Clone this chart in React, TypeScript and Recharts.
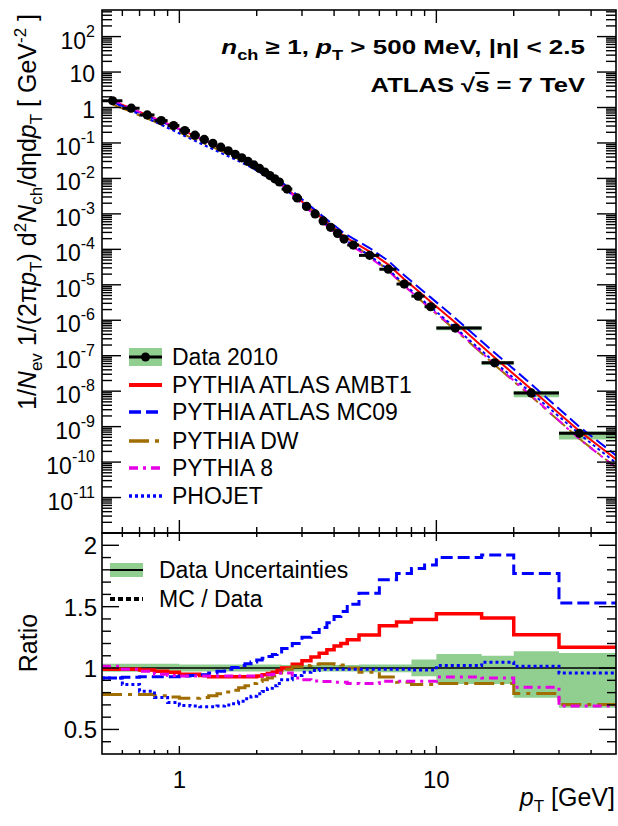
import React from 'react';
import {
  ComposedChart, Line, Area, Scatter, ErrorBar, XAxis, YAxis, ReferenceArea, ReferenceLine,
} from 'recharts';

// pT bin edges [GeV]
const binEdges = [
  0.5, 0.6, 0.7, 0.8, 0.9, 1.0, 1.1, 1.2, 1.3, 1.4, 1.5, 1.6, 1.7, 1.8, 1.9, 2.0, 2.1, 2.2, 2.3, 2.4, 2.5,
  2.75, 3.0, 3.25, 3.5, 3.75, 4.0, 4.25, 4.5, 5, 6, 7, 8, 9, 10, 15, 20, 30, 50,
];
// where the data marker sits inside each bin
const markerPt = [
  0.55, 0.65, 0.75, 0.85, 0.95, 1.05, 1.15, 1.25, 1.35, 1.45, 1.55, 1.65, 1.75, 1.85, 1.95, 2.05, 2.15, 2.25, 2.35, 2.45,
  2.625, 2.875, 3.125, 3.375, 3.625, 3.875, 4.125, 4.375, 4.75, 5.5, 6.5, 7.5, 8.5, 9.5, 11.85, 16.85, 23.4, 36,
];
// 1/Nev 1/(2 pi pT) d2N/deta dpT  [GeV^-2]
const data2010 = [
  1.55, 0.955, 0.617, 0.427, 0.309, 0.224, 0.166, 0.126, 0.0977, 0.0759, 0.0603, 0.0479, 0.038, 0.0302, 0.024,
  0.0191, 0.0151, 0.012, 0.00977, 0.00794, 0.00501, 0.00282, 0.00162, 0.001, 6.31e-4, 4.17e-4, 2.82e-4, 1.95e-4,
  1.32e-4, 6.76e-5, 2.75e-5, 1.05e-5, 4.79e-6, 2.4e-6, 6.03e-7, 6.31e-8, 8.91e-9, 6.46e-10,
];
// relative data uncertainty band
const bandLow = [
  0.97, 0.97, 0.97, 0.97, 0.97,
  0.972, 0.972, 0.972, 0.972, 0.972, 0.972, 0.972, 0.972, 0.972, 0.972, 0.972, 0.972, 0.972, 0.972, 0.972,
  0.972, 0.972, 0.972, 0.972, 0.972, 0.972, 0.972, 0.972, 0.972,
  0.966, 0.966, 0.966, 0.934, 0.934, 0.87, 0.87, 0.758, 0.676,
];
const bandHigh = [
  1.035, 1.035, 1.035, 1.035, 1.035,
  1.028, 1.028, 1.028, 1.028, 1.028, 1.028, 1.028, 1.028, 1.028, 1.028, 1.028, 1.028, 1.028, 1.028, 1.028,
  1.025, 1.025, 1.025, 1.025, 1.025, 1.025, 1.025, 1.025, 1.025,
  1.028, 1.028, 1.028, 1.069, 1.069, 1.115, 1.1, 1.137, 1.123,
];
// MC / Data per bin
const ratioAMBT1 = [
  0.99, 0.99, 0.985, 0.975, 0.965, 0.95, 0.95, 0.94, 0.93, 0.93, 0.93, 0.93, 0.93, 0.93, 0.93, 0.935, 0.945, 0.955,
  0.965, 0.98, 1.0, 1.03, 1.06, 1.09, 1.12, 1.15, 1.18, 1.2, 1.23, 1.27, 1.345, 1.375, 1.395, 1.395, 1.443, 1.408,
  1.272, 1.169,
];
const ratioMC09 = [
  0.92, 0.925, 0.93, 0.93, 0.93, 0.935, 0.94, 0.945, 0.96, 0.975, 0.99, 1.005, 1.02, 1.035, 1.05, 1.065, 1.08, 1.095,
  1.11, 1.13, 1.16, 1.2, 1.25, 1.29, 1.33, 1.37, 1.42, 1.46, 1.52, 1.61, 1.72, 1.77, 1.81, 1.84, 1.9, 1.92, 1.77, 1.53,
];
const ratioDW = [
  0.785, 0.785, 0.785, 0.775, 0.765, 0.755, 0.755, 0.76, 0.775, 0.79, 0.805, 0.82, 0.84, 0.855, 0.875, 0.89, 0.905,
  0.92, 0.935, 0.96, 0.99, 1.01, 1.02, 1.03, 1.035, 1.035, 1.03, 1.025, 1.0, 0.966, 0.928, 0.885, 0.866, 0.866,
  0.874, 0.874, 0.793, 0.703,
];
const ratioP8 = [
  1.015, 0.99, 0.975, 0.95, 0.94, 0.935, 0.935, 0.935, 0.935, 0.935, 0.935, 0.935, 0.935, 0.935, 0.935, 0.935, 0.94,
  0.945, 0.95, 0.96, 0.96, 0.92, 0.905, 0.895, 0.89, 0.89, 0.885, 0.885, 0.875, 0.874, 0.893, 0.893, 0.893, 0.893,
  0.928, 0.92, 0.844, 0.69,
];
const ratioPHOJET = [
  0.92, 0.866, 0.812, 0.76, 0.72, 0.695, 0.69, 0.685, 0.685, 0.69, 0.7, 0.71, 0.73, 0.75, 0.77, 0.79, 0.81, 0.835,
  0.855, 0.875, 0.905, 0.94, 0.965, 0.98, 0.99, 0.99, 0.99, 0.99, 0.99, 0.99, 0.99, 0.99, 0.985, 0.985, 1.02, 1.047,
  1.015, 0.96,
];
// MC curves where they hit the right edge (pT = 50 GeV), same order as SERIES
const mcAt50 = [1.2e-10, 1.55e-10, 7.1e-11, 7.0e-11, 9.5e-11];

const xTicks = [0.6, 0.7, 0.8, 0.9, 1, 2, 3, 4, 5, 6, 7, 8, 9, 10, 20, 30, 40];
const xLabels = [1, 10];
const yDecades = [-12, -11, -10, -9, -8, -7, -6, -5, -4, -3, -2, -1, 0, 1, 2];
const yMinorSteps = [2, 3, 4, 5, 6, 7, 8, 9];
const ratioTicks = [0.4, 0.5, 0.6, 0.7, 0.8, 0.9, 1, 1.1, 1.2, 1.3, 1.4, 1.5, 1.6, 1.7, 1.8, 1.9, 2];
const ratioLabels = [0.5, 1, 1.5, 2];

const SERIES = [
  { key: 'ambt1', name: 'PYTHIA ATLAS AMBT1', ratio: ratioAMBT1, color: '#ff0000', dash: undefined as string | undefined, width: 3.5 },
  { key: 'mc09', name: 'PYTHIA ATLAS MC09', ratio: ratioMC09, color: '#0000ff', dash: '12 5', width: 3 },
  { key: 'dw', name: 'PYTHIA DW', ratio: ratioDW, color: '#a06e00', dash: '20 6 4 6', width: 3 },
  { key: 'p8', name: 'PYTHIA 8', ratio: ratioP8, color: '#e600e6', dash: '9 5 3 5', width: 3 },
  { key: 'phojet', name: 'PHOJET', ratio: ratioPHOJET, color: '#0000ff', dash: '3 3', width: 3 },
];

const FONT = '"Liberation Sans", Arial, Helvetica, sans-serif';
const GREEN = '#91cf91';
const Y_TOP = Math.pow(10, 2.75);
// frame edges in page pixels
const FR = { left: 102, right: 616, top: 10, mid: 533, bottom: 754 };
const BOT_OFF = 520;

const spectrumRows = markerPt.map((pt, i) => ({
  pt,
  val: data2010[i],
  xerr: [pt - binEdges[i], binEdges[i + 1] - pt],
}));

const mcRows: any[] = markerPt.map((pt, i) => {
  const row: any = { pt };
  SERIES.forEach((s) => { row[s.key] = data2010[i] * s.ratio[i]; });
  return row;
});
const edgeRow: any = { pt: 50 };
SERIES.forEach((s, k) => { edgeRow[s.key] = mcAt50[k]; });
mcRows.push(edgeRow);

const ratioRows = binEdges.map((pt, i) => {
  const j = Math.min(i, data2010.length - 1);
  const row: any = { pt, band: [bandLow[j], bandHigh[j]] };
  SERIES.forEach((s) => { row[s.key] = s.ratio[j]; });
  return row;
});

const topYTicks: number[] = [];
yDecades.forEach((e) => {
  topYTicks.push(Math.pow(10, e));
  yMinorSteps.forEach((m) => {
    const v = m * Math.pow(10, e);
    if (v < Y_TOP) topYTicks.push(v);
  });
});

const isDecade = (v: number) => Math.abs(Math.log10(v) - Math.round(Math.log10(v))) < 1e-6;
const isOneOf = (v: number, list: number[]) => list.some((t) => Math.abs(t - v) < 1e-6);

const txt = { fontFamily: FONT, fill: '#000' };

function TopXTick(props: any) {
  const { x, payload } = props;
  const len = isDecade(payload.value) ? 13 : 6;
  return (
    <g stroke="#000" strokeWidth={1.4}>
      <line x1={x} x2={x} y1={FR.mid} y2={FR.mid - len} />
      <line x1={x} x2={x} y1={FR.top} y2={FR.top + len} />
    </g>
  );
}

function TopYTick(props: any) {
  const { y, payload } = props;
  const v = payload.value;
  const major = isDecade(v);
  const e = Math.round(Math.log10(v));
  const len = major ? 19 : 10;
  let label: React.ReactNode = null;
  if (major && e > -12) {
    if (e === 0 || e === 1) {
      label = (
        <text x={95} y={y + 10} textAnchor="end" fontSize={23} {...txt}>{e === 0 ? '1' : '10'}</text>
      );
    } else {
      label = (
        <text x={95} y={y + 12} textAnchor="end" fontSize={23} {...txt}>
          10<tspan fontSize={16} dy={-12}>{String(e)}</tspan>
        </text>
      );
    }
  }
  return (
    <g>
      <line x1={FR.left} x2={FR.left + len} y1={y} y2={y} stroke="#000" strokeWidth={1.4} />
      <line x1={FR.right} x2={FR.right - len} y1={y} y2={y} stroke="#000" strokeWidth={1.4} />
      {label}
    </g>
  );
}

function BotXTick(props: any) {
  const { x, payload } = props;
  const major = isDecade(payload.value);
  const len = major ? 8 : 4;
  return (
    <g>
      <line x1={x} x2={x} y1={FR.bottom - BOT_OFF} y2={FR.bottom - BOT_OFF - len} stroke="#000" strokeWidth={1.4} />
      <line x1={x} x2={x} y1={FR.mid - BOT_OFF} y2={FR.mid - BOT_OFF + len} stroke="#000" strokeWidth={1.4} />
      {isOneOf(payload.value, xLabels) && (
        <text x={x} y={788 - BOT_OFF} textAnchor="middle" fontSize={24} {...txt}>{String(payload.value)}</text>
      )}
    </g>
  );
}

function BotYTick(props: any) {
  const { y, payload } = props;
  const major = isOneOf(payload.value, ratioLabels);
  const len = major ? 17 : 9;
  return (
    <g>
      <line x1={FR.left} x2={FR.left + len} y1={y} y2={y} stroke="#000" strokeWidth={1.4} />
      <line x1={FR.right} x2={FR.right - len} y1={y} y2={y} stroke="#000" strokeWidth={1.4} />
      {major && (
        <text x={97} y={y + 9} textAnchor="end" fontSize={24} {...txt}>{String(payload.value)}</text>
      )}
    </g>
  );
}

// subscript followed by normal text
const sub = (s: string, next: React.ReactNode, size = 17) => (
  <>
    <tspan fontSize={size} dy={6}>{s}</tspan>
    <tspan dy={-6}>{next}</tspan>
  </>
);

function Overlay() {
  const legTop = [357, 385, 412, 441, 468, 496];
  return (
    <svg width={618} height={826} style={{ position: 'absolute', left: 0, top: 0, pointerEvents: 'none' }}>
      <rect x={FR.left} y={FR.top} width={FR.right - FR.left} height={FR.mid - FR.top} fill="none" stroke="#000" strokeWidth={1.6} />
      <rect x={FR.left} y={FR.mid} width={FR.right - FR.left} height={FR.bottom - FR.mid} fill="none" stroke="#000" strokeWidth={1.6} />

      {/* top right caption */}
      <g transform="translate(585,54) scale(1.3,1)">
        <text x={0} y={0} textAnchor="end" fontSize={20} fontWeight="bold" {...txt}>
          <tspan fontStyle="italic">n</tspan>{sub('ch', ' \u2265 1, ', 14)}
          <tspan fontStyle="italic">p</tspan>{sub('T', ' > 500 MeV, |\u03b7| < 2.5', 14)}
        </text>
      </g>
      <g transform="translate(585,92) scale(1.28,1)">
        <text x={0} y={0} textAnchor="end" fontSize={20} fontWeight="bold" {...txt}>
          {'ATLAS \u221a'}<tspan textDecoration="overline">s</tspan>{' = 7 TeV'}
        </text>
      </g>

      {/* y title, top */}
      <text transform="translate(36,212) rotate(-90)" textAnchor="middle" fontSize={25} {...txt}>
        {'1/'}<tspan fontStyle="italic">N</tspan>{sub('ev', ' 1/(2\u03c0')}<tspan fontStyle="italic">p</tspan>
        {sub('T', ') d')}<tspan fontSize={17} dy={-10}>2</tspan><tspan fontStyle="italic" dy={10}>N</tspan>
        {sub('ch', '/d\u03b7d')}<tspan fontStyle="italic">p</tspan>{sub('T', ' [ GeV')}
        <tspan fontSize={17} dy={-10}>-2</tspan><tspan dy={10}>{' ]'}</tspan>
      </text>
      <text transform="translate(37,643) rotate(-90)" textAnchor="middle" fontSize={25} {...txt}>Ratio</text>
      <text x={615} y={806} textAnchor="end" fontSize={25} {...txt}>
        <tspan fontStyle="italic">p</tspan>{sub('T', ' [GeV]')}
      </text>

      {/* top legend */}
      <rect x={129} y={legTop[0] - 9} width={33} height={18} fill={GREEN} />
      <line x1={129} x2={162} y1={legTop[0]} y2={legTop[0]} stroke="#000" strokeWidth={3} />
      <circle cx={145.5} cy={legTop[0]} r={4.5} fill="#000" />
      <text x={172} y={legTop[0] + 8} fontSize={23} {...txt}>Data 2010</text>
      {SERIES.map((s, k) => (
        <g key={s.key}>
          <line x1={129} x2={162} y1={legTop[k + 1]} y2={legTop[k + 1]} stroke={s.color} strokeWidth={s.width + 0.5}
            strokeDasharray={s.dash} />
          <text x={172} y={legTop[k + 1] + 8} fontSize={23} {...txt}>{s.name}</text>
        </g>
      ))}

      {/* ratio legend */}
      <rect x={110} y={563} width={33} height={14} fill={GREEN} />
      <line x1={110} x2={143} y1={570} y2={570} stroke="#000" strokeWidth={2} />
      <text x={159} y={578} fontSize={23} {...txt}>Data Uncertainties</text>
      <line x1={110} x2={143} y1={599} y2={599} stroke="#000" strokeWidth={4} strokeDasharray="5 3" />
      <text x={159} y={607} fontSize={23} {...txt}>MC / Data</text>
    </svg>
  );
}

export default function App() {
  return (
    <div style={{ position: 'absolute', left: 0, top: 0, width: 618, height: 826, background: '#fff', fontFamily: FONT }}>
      <div style={{ position: 'absolute', left: 0, top: 0 }}>
        <ComposedChart width={618} height={540} margin={{ top: 10, right: 2, bottom: 6, left: 101 }}>
          <XAxis type="number" dataKey="pt" scale="log" domain={[0.5, 50]} allowDataOverflow ticks={xTicks}
            interval={0} height={1} axisLine={false} tickLine={false} tickSize={0} tickMargin={0} tick={TopXTick} />
          <YAxis type="number" scale="log" domain={[1e-12, Y_TOP]} allowDataOverflow ticks={topYTicks}
            interval={0} width={1} axisLine={false} tickLine={false} tickSize={0} tickMargin={0} tick={TopYTick} />
          {spectrumRows.map((r, i) => (
            <ReferenceArea key={i} x1={binEdges[i]} x2={binEdges[i + 1]} y1={r.val * bandLow[i]} y2={r.val * bandHigh[i]}
              fill={GREEN} fillOpacity={1} stroke="none" />
          ))}
          {SERIES.map((s) => (
            <Line key={s.key} data={mcRows} dataKey={s.key} type="linear" stroke={s.color} strokeWidth={2}
              strokeDasharray={s.dash} dot={false} activeDot={false} isAnimationActive={false} />
          ))}
          <Scatter data={spectrumRows} dataKey="val" isAnimationActive={false}
            shape={(p: any) => <circle cx={p.cx} cy={p.cy} r={4.6} fill="#000" />}>
            <ErrorBar dataKey="xerr" direction="x" width={0} strokeWidth={3} stroke="#000" />
          </Scatter>
        </ComposedChart>
      </div>
      <div style={{ position: 'absolute', left: 0, top: BOT_OFF }}>
        <ComposedChart width={618} height={300} data={ratioRows} margin={{ top: 13, right: 2, bottom: 65, left: 101 }}>
          <XAxis type="number" dataKey="pt" scale="log" domain={[0.5, 50]} allowDataOverflow ticks={xTicks}
            interval={0} height={1} axisLine={false} tickLine={false} tickSize={0} tickMargin={0} tick={BotXTick} />
          <YAxis type="number" domain={[0.3, 2.1]} allowDataOverflow ticks={ratioTicks}
            interval={0} width={1} axisLine={false} tickLine={false} tickSize={0} tickMargin={0} tick={BotYTick} />
          <Area dataKey="band" type="stepAfter" fill={GREEN} fillOpacity={1} stroke="none" isAnimationActive={false}
            activeDot={false} />
          <ReferenceLine y={1} stroke="#000" strokeWidth={1.5} />
          {SERIES.map((s) => (
            <Line key={s.key} dataKey={s.key} type="stepAfter" stroke={s.color} strokeWidth={s.width}
              strokeDasharray={s.dash} dot={false} activeDot={false} isAnimationActive={false} />
          ))}
        </ComposedChart>
      </div>
      <Overlay />
    </div>
  );
}
